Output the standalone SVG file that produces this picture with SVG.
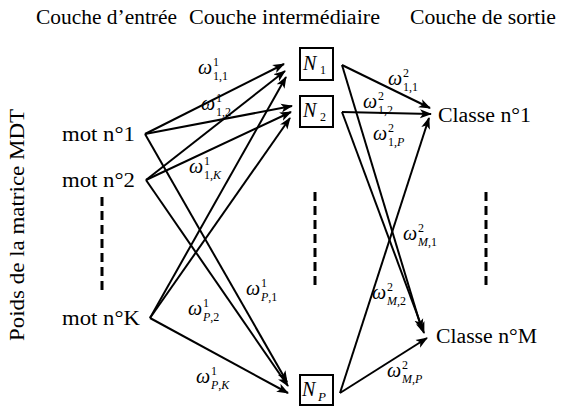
<svg xmlns="http://www.w3.org/2000/svg" width="587" height="406" viewBox="0 0 587 406" font-family="'Liberation Serif','DejaVu Serif',serif">
<style>
text{font-family:"Liberation Serif","DejaVu Serif",serif;fill:#000}
.t{font-size:20px}
.w{font-size:20px;font-style:italic}
.s{font-size:12px}
.si{font-size:13px;font-style:italic}
.i{font-style:italic}
.e{stroke:#000;stroke-width:2;fill:none;marker-end:url(#ah)}
.box{fill:#fff;stroke:#000;stroke-width:2}
.dash{stroke:#000;stroke-width:3;stroke-dasharray:9 5}
</style>
<defs>
<marker id="ah" viewBox="0 0 12 10" refX="11" refY="5" markerWidth="12" markerHeight="10" markerUnits="userSpaceOnUse" orient="auto">
<path d="M0,0.5 L12,5 L0,9.5 L3,5 z" fill="#000"/>
</marker>
</defs>
<rect width="587" height="406" fill="#fff"/>
<g id="headers">
<text class="t" x="36" y="24" textLength="141" lengthAdjust="spacingAndGlyphs">Couche d’entrée</text>
<text class="t" x="189" y="24" textLength="191" lengthAdjust="spacingAndGlyphs">Couche intermédiaire</text>
<text class="t" x="410" y="24" textLength="146" lengthAdjust="spacingAndGlyphs">Couche de sortie</text>
</g>
<g id="axis-label">
<text class="t" transform="translate(24,225) rotate(-90)" text-anchor="middle" textLength="232" lengthAdjust="spacingAndGlyphs">Poids de la matrice MDT</text>
</g>
<g id="connectors">
<line class="e" x1="145" y1="134" x2="284" y2="64"/>
<line class="e" x1="146" y1="180" x2="285" y2="71"/>
<line class="e" x1="150" y1="318" x2="286" y2="77"/>
<line class="e" x1="145" y1="134" x2="292" y2="106"/>
<line class="e" x1="146" y1="180" x2="291" y2="112"/>
<line class="e" x1="150" y1="318" x2="290" y2="118"/>
<line class="e" x1="145" y1="134" x2="287" y2="382"/>
<line class="e" x1="146" y1="180" x2="288" y2="386"/>
<line class="e" x1="150" y1="318" x2="288" y2="393"/>
<line class="e" x1="342" y1="65" x2="430" y2="108"/>
<line class="e" x1="342" y1="112" x2="431" y2="114"/>
<line class="e" x1="340" y1="393" x2="429" y2="118"/>
<line class="e" x1="342" y1="65" x2="422" y2="330"/>
<line class="e" x1="342" y1="112" x2="424" y2="333"/>
<line class="e" x1="340" y1="393" x2="427" y2="338"/>
</g>
<g id="dashes">
<line class="dash" x1="102" y1="197" x2="102" y2="290"/>
<line class="dash" x1="315" y1="192" x2="315" y2="285"/>
<line class="dash" x1="486" y1="192" x2="486" y2="285"/>
</g>
<g id="mot1"><text class="t" x="62" y="141" textLength="73" lengthAdjust="spacingAndGlyphs">mot n°1</text></g>
<g id="mot2"><text class="t" x="62" y="187" textLength="73" lengthAdjust="spacingAndGlyphs">mot n°2</text></g>
<g id="motK"><text class="t" x="62" y="325" textLength="78" lengthAdjust="spacingAndGlyphs">mot n°K</text></g>
<g id="N1"><rect class="box" x="300" y="48" width="33" height="32"/><text class="w" x="303" y="70">N</text><text class="s" x="320" y="74">1</text></g>
<g id="N2"><rect class="box" x="300" y="96" width="33" height="31"/><text class="w" x="303" y="117">N</text><text class="s" x="320" y="121">2</text></g>
<g id="NP"><rect class="box" x="300" y="375" width="33" height="30"/><text class="w" x="302" y="396">N</text><text class="si" x="318" y="401">P</text></g>
<g id="C1"><text class="t" x="438" y="122" textLength="93" lengthAdjust="spacingAndGlyphs">Classe n°1</text></g>
<g id="CM"><text class="t" x="436" y="343" textLength="101" lengthAdjust="spacingAndGlyphs">Classe n°M</text></g>
<g id="weights">
<text class="w" x="198" y="74">ω</text><text class="s" x="213" y="66">1</text><text class="s" x="213" y="80">1,1</text>
<text class="w" x="201" y="110">ω</text><text class="s" x="216" y="102">1</text><text class="s" x="216" y="116">1,2</text>
<text class="w" x="189" y="173">ω</text><text class="s" x="204" y="165">1</text><text class="s" x="204" y="179">1,<tspan class="i">K</tspan></text>
<text class="w" x="246" y="295">ω</text><text class="s" x="261" y="287">1</text><text class="s" x="261" y="301"><tspan class="i">P</tspan>,1</text>
<text class="w" x="188" y="315">ω</text><text class="s" x="203" y="307">1</text><text class="s" x="203" y="321"><tspan class="i">P</tspan>,2</text>
<text class="w" x="196" y="383">ω</text><text class="s" x="211" y="375">1</text><text class="s" x="211" y="389"><tspan class="i">P</tspan>,<tspan class="i">K</tspan></text>
<text class="w" x="388" y="85">ω</text><text class="s" x="403" y="77">2</text><text class="s" x="403" y="91">1,1</text>
<text class="w" x="363" y="108">ω</text><text class="s" x="378" y="100">2</text><text class="s" x="378" y="114">1,2</text>
<text class="w" x="373" y="140">ω</text><text class="s" x="388" y="132">2</text><text class="s" x="388" y="146">1,<tspan class="i">P</tspan></text>
<text class="w" x="403" y="240">ω</text><text class="s" x="418" y="232">2</text><text class="s" x="418" y="246"><tspan class="i">M</tspan>,1</text>
<text class="w" x="372" y="299">ω</text><text class="s" x="387" y="291">2</text><text class="s" x="387" y="305"><tspan class="i">M</tspan>,2</text>
<text class="w" x="387" y="377">ω</text><text class="s" x="402" y="369">2</text><text class="s" x="402" y="383"><tspan class="i">M</tspan>,<tspan class="i">P</tspan></text>
</g>
</svg>
